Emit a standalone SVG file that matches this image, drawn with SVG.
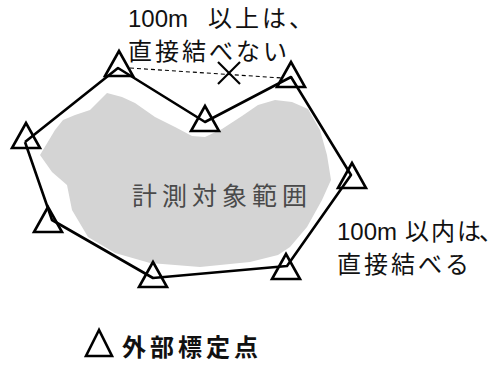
<svg xmlns="http://www.w3.org/2000/svg" width="504" height="365" viewBox="0 0 504 365">
<defs>
<style>
.tri{fill:none;stroke:#000;stroke-width:2.6;stroke-linejoin:miter}
.edge{fill:none;stroke:#000;stroke-width:2.6;stroke-linejoin:round}
.dash{fill:none;stroke:#000;stroke-width:1.1;stroke-dasharray:4 3}
.cross{stroke:#000;stroke-width:2.2}
.lbl{font-family:"Liberation Sans","Noto Sans CJK JP",sans-serif;font-size:24px;fill:#111}
.cjk{font-family:"Noto Sans CJK JP",sans-serif;letter-spacing:3px}
.area{font-family:"Noto Sans CJK JP",sans-serif;font-size:25px;fill:#4a4a4a;letter-spacing:5px}
.legend{font-family:"Noto Sans CJK JP",sans-serif;font-size:24px;font-weight:bold;fill:#111;letter-spacing:4px}
</style>
<polygon id="tri" points="0,-13 -14,12 14,12"/>
</defs>
<rect width="504" height="365" fill="#fff"/>
<g id="area">
<path d="M40,155 L55,130 L63,120 L75,115 L90,110 L107,93 L122,97 L135,103 L155,117 L175,127 L192,136 L205,137 L222,129 L242,116 L258,105 L275,100 L292,102 L308,109 L320,130 L327,155 L331,180 L322,200 L307,227 L290,247 L278,255 L250,262 L200,267 L150,263 L115,253 L88,237 L72,210 L67,185 L52,172 Z" fill="#d4d4d4"/>
<text class="area" x="132" y="205">計測対象範囲</text>
</g>
<g id="connectors">
<polyline class="edge" points="25,142 118,68 205,122 291,77 351,175 287,266 153,278 52,220 25,142"/>
<line class="dash" x1="130" y1="68" x2="282" y2="78"/>
<line class="cross" x1="218" y1="62" x2="240" y2="84"/>
<line class="cross" x1="240" y1="62" x2="218" y2="84"/>
</g>
<g id="p1"><use href="#tri" class="tri" x="119" y="64"/></g>
<g id="p2"><use href="#tri" class="tri" x="291" y="75"/></g>
<g id="p3"><use href="#tri" class="tri" x="205" y="119"/></g>
<g id="p4"><use href="#tri" class="tri" x="26" y="136"/></g>
<g id="p5"><use href="#tri" class="tri" x="48" y="220"/></g>
<g id="p6"><use href="#tri" class="tri" x="153" y="275"/></g>
<g id="p7"><use href="#tri" class="tri" x="286" y="267"/></g>
<g id="p8"><use href="#tri" class="tri" x="352" y="176"/></g>
<g id="label-top">
<text class="lbl" x="128" y="27">100m<tspan class="cjk" x="208">以上は、</tspan></text>
<text class="lbl cjk" x="128" y="60">直接結べない</text>
</g>
<g id="label-right">
<text class="lbl" x="337" y="240">100m<tspan style="font-family:'Noto Sans CJK JP',sans-serif" x="405 431 457 479">以内は、</tspan></text>
<text class="lbl cjk" x="337" y="273">直接結べる</text>
</g>
<g id="legend">
<polygon points="99,330 86,356 112,356" class="tri"/>
<text class="legend" x="122" y="356">外部標定点</text>
</g>
</svg>
